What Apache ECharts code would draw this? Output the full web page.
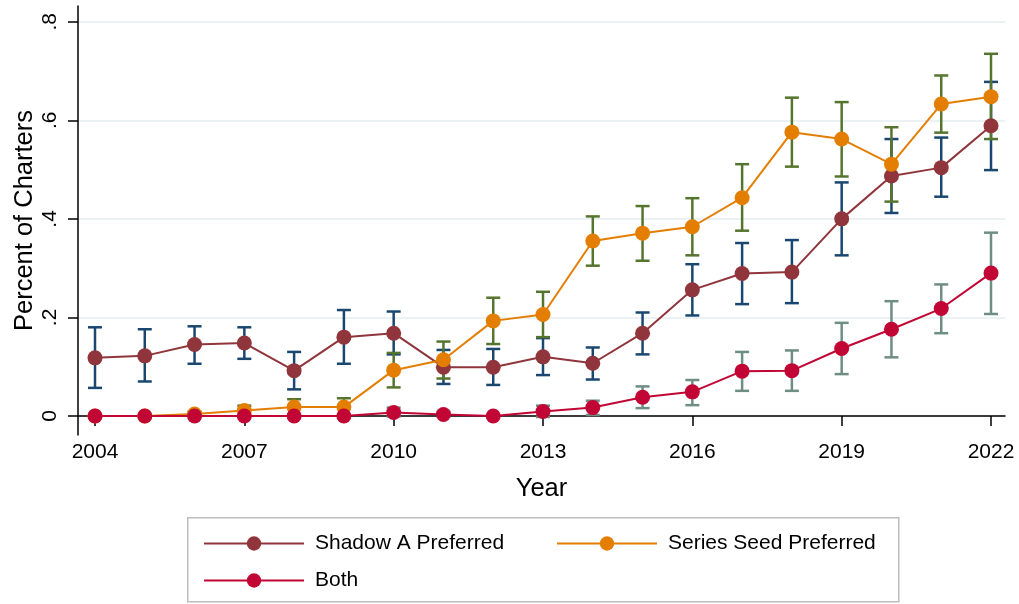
<!DOCTYPE html>
<html>
<head>
<meta charset="utf-8">
<script src="https://cdn.jsdelivr.net/npm/echarts@6/dist/echarts.min.js"></script>
<style>
  html, body { margin: 0; padding: 0; background: #fff; }
  #chart { width: 1019px; height: 604px; }
</style>
</head>
<body>
<div id="chart"></div>
<script>
// values
const years = [2004, 2005, 2006, 2007, 2008, 2009, 2010, 2011, 2012, 2013, 2014, 2015, 2016, 2017, 2018, 2019, 2020, 2021, 2022]
const xTicks = [2004, 2007, 2010, 2013, 2016, 2019, 2022]
const yTicks = [0, 0.2, 0.4, 0.6, 0.8]

const shadowA   = [0.118, 0.122, 0.145, 0.148, 0.092, 0.160, 0.168, 0.099, 0.099, 0.120, 0.107, 0.168, 0.256, 0.289, 0.292, 0.400, 0.487, 0.504, 0.589]
const shadowALo = [0.057, 0.070, 0.106, 0.116, 0.054, 0.106, 0.125, 0.065, 0.063, 0.083, 0.074, 0.125, 0.204, 0.227, 0.229, 0.326, 0.412, 0.445, 0.499]
const shadowAHi = [0.180, 0.176, 0.182, 0.180, 0.130, 0.215, 0.212, 0.134, 0.136, 0.158, 0.139, 0.210, 0.308, 0.351, 0.357, 0.474, 0.562, 0.565, 0.678]

const seriesSeed   = [0, 0, 0.004, 0.011, 0.018, 0.018, 0.093, 0.114, 0.193, 0.206, 0.355, 0.371, 0.384, 0.443, 0.576, 0.562, 0.511, 0.633, 0.648]
const seriesSeedLo = [null, null, 0.000, 0.001, 0.002, 0.002, 0.058, 0.076, 0.146, 0.160, 0.305, 0.315, 0.326, 0.376, 0.506, 0.486, 0.435, 0.575, 0.562]
const seriesSeedHi = [null, null, 0.009, 0.021, 0.034, 0.036, 0.128, 0.151, 0.240, 0.252, 0.405, 0.426, 0.442, 0.511, 0.646, 0.637, 0.586, 0.691, 0.735]

const both   = [0, 0, 0, 0, 0, 0, 0.007, 0.003, 0, 0.009, 0.017, 0.038, 0.049, 0.091, 0.092, 0.137, 0.176, 0.218, 0.290]
const bothLo = [null, null, null, null, null, null, -0.001, -0.001, null, -0.002, 0.002, 0.016, 0.022, 0.051, 0.051, 0.085, 0.119, 0.168, 0.207]
const bothHi = [null, null, null, null, null, null, 0.017, 0.009, null, 0.021, 0.031, 0.060, 0.073, 0.130, 0.133, 0.189, 0.233, 0.267, 0.372]

const FONT = "'Liberation Sans', Arial, Helvetica, sans-serif"

const chart = echarts.init(document.getElementById('chart'))

// vertical caps drawn from lo/hi through the axes
function capSeries(lo, hi, color) {
  return {
    type: 'custom',
    silent: true,
    z: 2,
    data: years.map((y, i) => [y, lo[i], hi[i]]).filter(d => d[1] != null),
    encode: { x: 0, y: [1, 2] },
    renderItem: (params, api) => {
      const x = api.value(0)
      const a = api.coord([x, api.value(1)])
      const b = api.coord([x, api.value(2)])
      const w = 7
      const style = { stroke: color, lineWidth: 2.5 }
      return {
        type: 'group',
        children: [
          { type: 'line', shape: { x1: a[0], y1: a[1], x2: b[0], y2: b[1] }, style },
          { type: 'line', shape: { x1: a[0] - w, y1: a[1], x2: a[0] + w, y2: a[1] }, style },
          { type: 'line', shape: { x1: b[0] - w, y1: b[1], x2: b[0] + w, y2: b[1] }, style }
        ]
      }
    }
  }
}

function lineSeries(name, values, color) {
  return {
    name,
    type: 'line',
    z: 3,
    data: years.map((y, i) => [y, values[i]]),
    symbol: 'circle',
    symbolSize: 15,
    itemStyle: { color },
    lineStyle: { color, width: 2 },
    emphasis: { disabled: true }
  }
}

const legendBase = {
  orient: 'horizontal',
  itemWidth: 100,
  itemHeight: 18,
  selectedMode: false,
  textStyle: { fontFamily: FONT, fontSize: 21, color: '#000', padding: [0, 0, 0, 6] }
}

chart.setOption({
  backgroundColor: '#fff',
  animation: false,
  textStyle: { fontFamily: FONT },
  grid: { left: 78, right: 14, top: 6, bottom: 169, containLabel: false, outerBoundsMode: 'none' },
  xAxis: {
    type: 'value',
    min: 2003.6585,
    max: 2022.281,
    name: 'Year',
    nameLocation: 'middle',
    nameGap: 41,
    nameTextStyle: { fontSize: 25.5, color: '#000', fontFamily: FONT },
    axisLine: { lineStyle: { color: '#000', width: 1.5 } },
    axisTick: { show: true, length: 10, inside: false, lineStyle: { color: '#000', width: 1.5 }, customValues: xTicks },
    axisLabel: { customValues: xTicks, color: '#000', fontSize: 21, margin: 7, fontFamily: FONT, formatter: v => String(v) },
    splitLine: { show: false }
  },
  yAxis: {
    type: 'value',
    min: -0.0386,
    max: 0.832,
    name: 'Percent of Charters',
    nameLocation: 'middle',
    nameRotate: 90,
    nameGap: 40,
    nameMoveOverlap: false,
    nameTextStyle: { fontSize: 25.5, color: '#000', fontFamily: FONT },
    axisLine: { show: true, lineStyle: { color: '#000', width: 1.5 } },
    axisTick: { show: true, length: 10, inside: false, lineStyle: { color: '#000', width: 1.5 }, customValues: yTicks },
    axisLabel: {
      customValues: yTicks,
      rotate: 90,
      color: '#000',
      fontSize: 21,
      margin: 17,
      fontFamily: FONT,
      formatter: v => v === 0 ? '0' : String(v).replace(/^0/, '')
    },
    splitLine: { show: true, lineStyle: { color: '#eaf2f3', width: 2 } }
  },
  graphic: [{
    type: 'rect',
    left: 187,
    top: 517,
    z: 0,
    shape: { width: 711, height: 84 },
    style: { fill: '#fff', stroke: '#bdbdbd', lineWidth: 1.5 }
  }],
  legend: [
    Object.assign({}, legendBase, { data: ['Shadow A Preferred'], left: 198, top: 528 }),
    Object.assign({}, legendBase, { data: ['Series Seed Preferred'], left: 551, top: 528 }),
    Object.assign({}, legendBase, { data: ['Both'], left: 198, top: 565 })
  ],
  series: [
    capSeries(shadowALo, shadowAHi, '#1a476f'),
    capSeries(seriesSeedLo, seriesSeedHi, '#55752f'),
    capSeries(bothLo, bothHi, '#6e8e84'),
    lineSeries('Shadow A Preferred', shadowA, '#90353b'),
    lineSeries('Series Seed Preferred', seriesSeed, '#e37e00'),
    lineSeries('Both', both, '#c10534')
  ]
})
</script>
</body>
</html>
